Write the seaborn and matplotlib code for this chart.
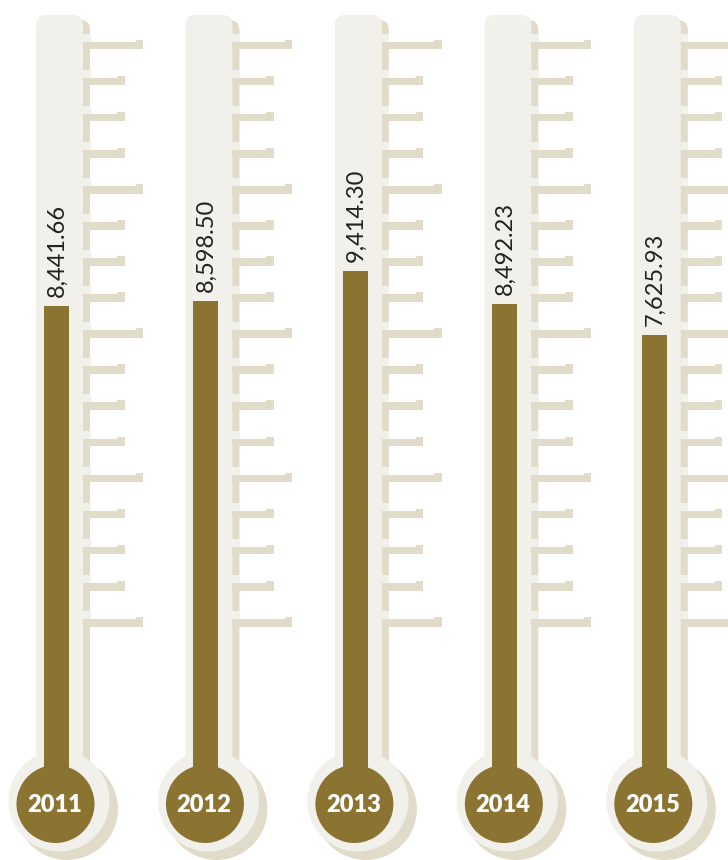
import matplotlib
matplotlib.use("Agg")
import matplotlib.pyplot as plt
from matplotlib.patches import FancyBboxPatch, Rectangle, Circle
import seaborn as sns
import pandas as pd

# Yearly totals shown in each thermometer
years = ["2011", "2012", "2013", "2014", "2015"]
values = [8441.66, 8598.50, 9414.30, 8492.23, 7625.93]
value_labels = ["8,441.66", "8,598.50", "9,414.30", "8,492.23", "7,625.93"]

W, H = 728, 860
BROWN = "#8B7432"
TUBE = "#F1F0EB"
SHADE = "#E1DCCA"
TEXT = "#222222"

sns.set_theme(style="white")
plt.rcParams["font.family"] = ["Lato", "DejaVu Sans"]

fig = plt.figure(figsize=(W / 100, H / 100), dpi=100)

# Background layer in pixel units for the thermometer bodies
bg = fig.add_axes([0, 0, 1, 1], zorder=0)
bg.set_xlim(0, W)
bg.set_ylim(H, 0)
bg.axis("off")

PITCH = 149.45          # horizontal distance between thermometers
N_TICKS = 17
TICK_TOP = 45.5
TICK_STEP = 36.08

for i, yr in enumerate(years):
    dx = i * PITCH
    # drop shadow of bulb and tube
    bg.add_patch(Circle((67 + dx, 809), 51, color=SHADE, lw=0))
    bg.add_patch(FancyBboxPatch((43 + dx, 20), 47, 790,
                                boxstyle="round,pad=0,rounding_size=10",
                                fc=SHADE, ec="none"))
    # glass bulb and tube
    bg.add_patch(Circle((59 + dx, 801), 50.5, color=TUBE, lw=0))
    bg.add_patch(FancyBboxPatch((36 + dx, 15), 47, 785,
                                boxstyle="round,pad=0,rounding_size=10",
                                fc=TUBE, ec="none"))
    # scale marks
    for k in range(N_TICKS):
        t = TICK_TOP + k * TICK_STEP
        length = 60 if k % 4 == 0 else 41.5
        bg.add_patch(Rectangle((83 + dx, t - 3.8 - 8), 7.5, 8, fc=TUBE, ec="none"))
        bg.add_patch(Rectangle((83 + dx, t - 3.8), length, 7.6, fc=SHADE, ec="none"))
        end = 83 + dx + length
        bg.add_patch(Rectangle((end - 7.5, t - 5.8), 7.5, 9.6, fc=SHADE, ec="none"))
    # liquid reservoir
    bg.add_patch(Rectangle((44 + dx, 600), 25, 204, fc=BROWN, ec="none", lw=0))
    bg.add_patch(Circle((55.5 + dx, 804), 39, color=BROWN, lw=0))
    bg.text(54.5 + dx, 805, yr, color="white", fontsize=17, fontweight="heavy",
            ha="center", va="center")

# Data layer: the mercury columns
df = pd.DataFrame({"year": years, "value": values})
ax = fig.add_axes([0, 0, 1, 1], zorder=2)
ax.patch.set_alpha(0)
sns.barplot(data=df, x="year", y="value", ax=ax, color=BROWN, saturation=1,
            width=25 / PITCH, errorbar=None, linewidth=0, edgecolor="none")
ax.set_xlim(-56.5 / PITCH, (W - 56.5) / PITCH)
ax.set_ylim(-6964, 16958)
ax.axis("off")

for i, (v, lab) in enumerate(zip(values, value_labels)):
    ax.annotate(lab, (i, v), xytext=(0.5, 9), textcoords="offset pixels",
                rotation=90, ha="center", va="bottom", fontsize=17, color=TEXT)

fig.savefig("out.png", dpi=100)
